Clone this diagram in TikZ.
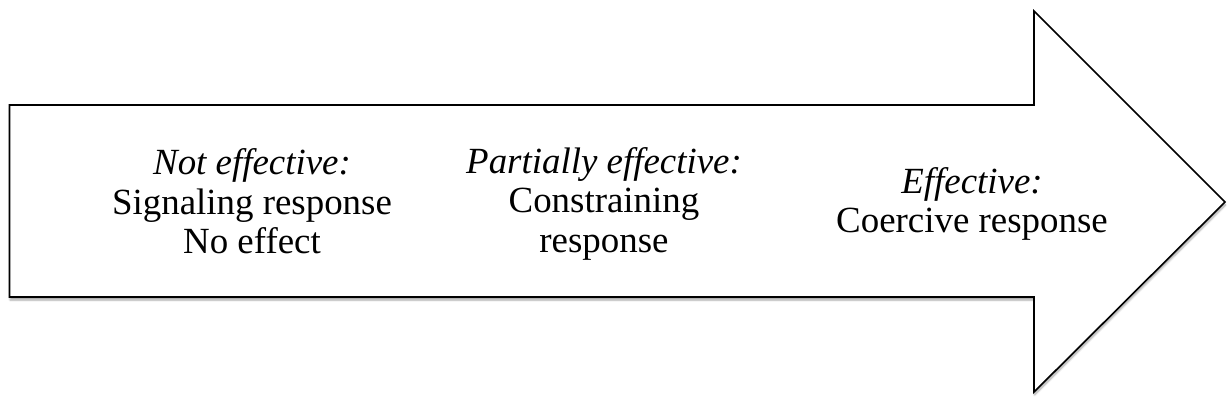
\documentclass[tikz,border=0pt]{standalone}
\usepackage{fontspec}
\setmainfont{Liberation Serif}
\usetikzlibrary{shadows.blur}
\begin{document}
\begin{tikzpicture}[x=1pt,y=-1pt,
  arrowshape/.style={draw=black, line width=1.6pt, fill=white, line join=miter,
    blur shadow={shadow xshift=0.5pt, shadow yshift=-3pt, shadow blur steps=6, shadow opacity=35}},
  label/.style={align=center, anchor=base, inner sep=0pt,
    font=\fontsize{36.9}{39.5}\selectfont}]
  \useasboundingbox (0,0) rectangle (1229,414);
  % block arrow: shaft and head
  \path[arrowshape] (9.5,105) -- (1034,105) -- (1034,11) -- (1225,202)
    -- (1034,392) -- (1034,297) -- (9.5,297) -- cycle;
  % stages along the arrow (positions give the baseline of the last line)
  \node[label] (notEff) at (252,254) {\textit{Not effective:}\\Signaling response\\No effect};
  \node[label] (partEff) at (604,252) {\textit{Partially effective:}\\Constraining\\response};
  \node[label] (eff) at (972,233) {\textit{Effective:}\\Coercive response};
\end{tikzpicture}
\end{document}
